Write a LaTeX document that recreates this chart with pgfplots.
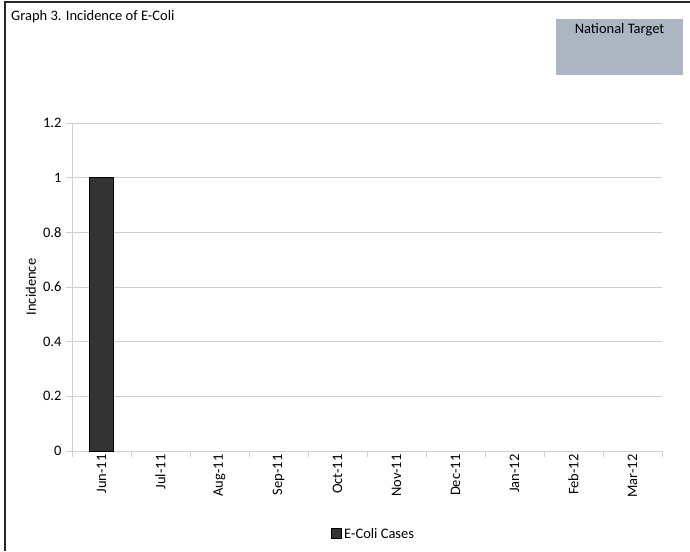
\documentclass[border=0pt]{standalone}
\usepackage{pgfplots}
\pgfplotsset{compat=1.18}
\usepackage{fontspec}
\setmainfont{Carlito}
\definecolor{gridgray}{HTML}{D0D0D0}
\definecolor{targetfill}{HTML}{ABB6C2}
\definecolor{barfill}{HTML}{333333}
\newcommand{\chartfont}{\fontsize{14.5}{17}\selectfont}

\begin{document}
\begin{tikzpicture}[font=\chartfont]
\useasboundingbox (0pt,0pt) rectangle (690pt,-551pt);
% frame edges
\draw[line width=1.4pt,black!85] (5pt,-551pt) -- (5pt,-2pt) -- (690pt,-2pt);
% title
\node[anchor=west, inner sep=0pt] at (11pt,-17pt) {Graph 3. Incidence of E-Coli};
% target box
\fill[targetfill] (556pt,-19pt) rectangle (683pt,-75pt);
\node[inner sep=0pt] at (619.5pt,-30pt) {National Target};

\begin{axis}[
  at={(72pt,-451pt)}, anchor=south west,
  scale only axis, width=590pt, height=328pt,
  xmin=0, xmax=10, ymin=0, ymax=1.2,
  ytick={0,0.2,0.4,0.6,0.8,1,1.2},
  yticklabels={0,0.2,0.4,0.6,0.8,1,1.2},
  % tick marks on the category boundaries
  xtick={0,1,...,10},
  xticklabels={},
  xtick align=outside,
  % category names centred between the boundaries
  extra x ticks={0.5,1.5,...,9.5},
  extra x tick labels={Jun-11,Jul-11,Aug-11,Sep-11,Oct-11,Nov-11,Dec-11,Jan-12,Feb-12,Mar-12},
  extra x tick style={grid=none, major tick length=0pt,
    tick label style={rotate=90, anchor=east, font=\chartfont, yshift=0pt}},
  x tick label style={font=\chartfont},
  y tick label style={font=\chartfont, xshift=-1pt},
  ytick align=outside, major tick length=6pt,
  tick style={draw=gridgray, line width=1pt},
  ymajorgrids, grid style={draw=gridgray, line width=1pt},
  axis line style={draw=gridgray, line width=1pt},
  axis x line*=bottom, axis y line*=left,
  clip=false,
]
% E-Coli cases per month (Jun-11: 1, all other months: 0)
\addplot[ybar, bar width=24pt, fill=barfill, draw=black, line width=0.8pt]
  coordinates {(0.5,1)};
\end{axis}

% y axis title
\node[rotate=90, inner sep=0pt] at (31pt,-287pt) {Incidence};

% legend
\fill[barfill] (331pt,-528pt) rectangle (341pt,-538pt);
\draw[black, line width=0.4pt] (331pt,-528pt) rectangle (341pt,-538pt);
\node[anchor=west, inner sep=0pt] at (344pt,-533.5pt) {E-Coli Cases};
\end{tikzpicture}
\end{document}
